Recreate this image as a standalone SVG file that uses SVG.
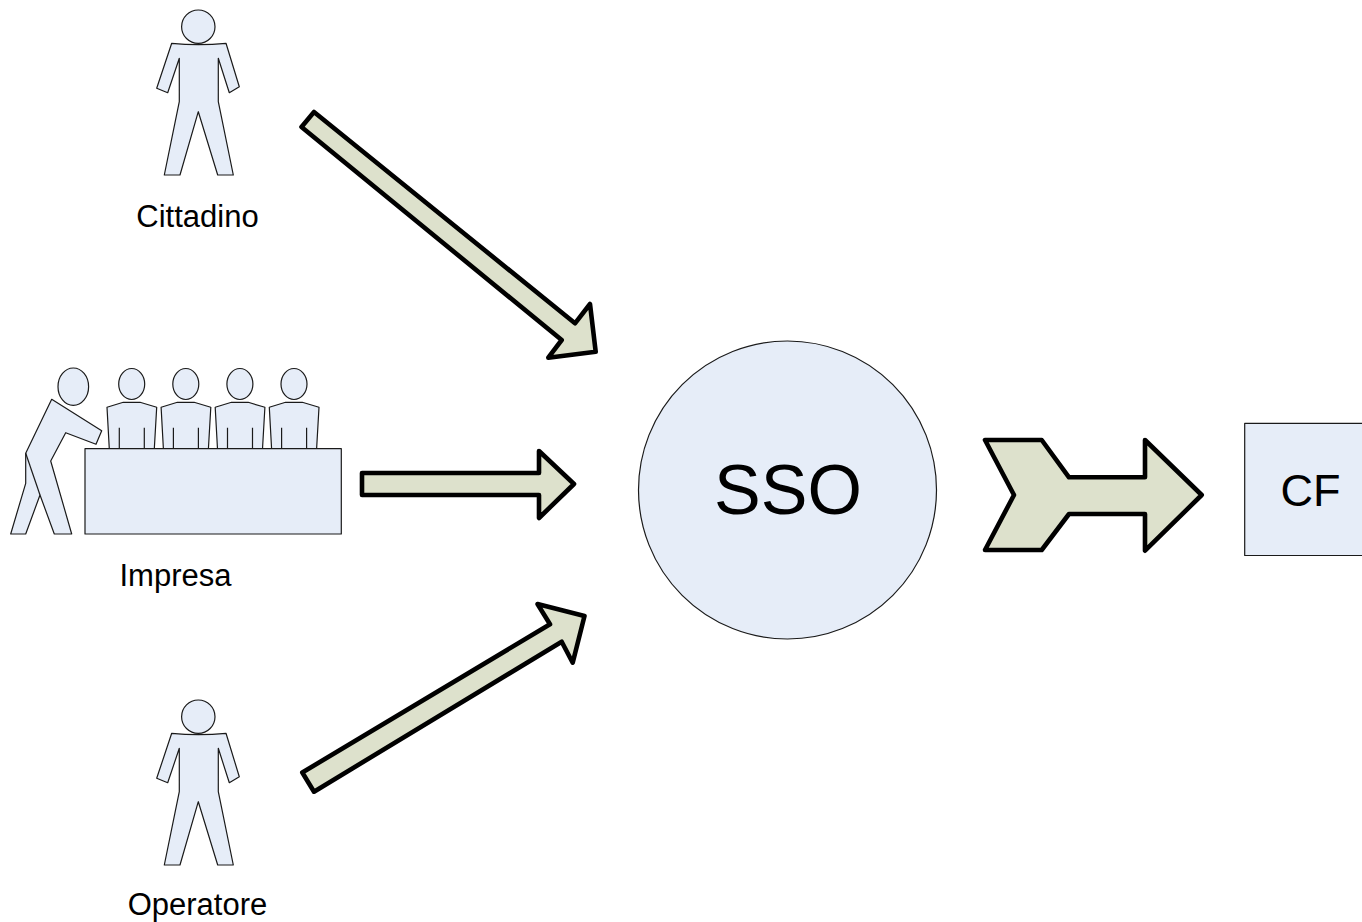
<svg xmlns="http://www.w3.org/2000/svg" width="1362" height="922" viewBox="0 0 1362 922">
<style>
.s{fill:#e6edf8;stroke:#1a1a1a;stroke-width:1.2;stroke-linejoin:round}
.a{fill:#dde1cc;stroke:#000;stroke-width:4.6;stroke-linejoin:round}
.t{font-family:"Liberation Sans",Arial,sans-serif;fill:#000;text-anchor:middle}
.l{font-size:31px}
</style>
<defs>
<g id="person">
<circle class="s" cx="198.3" cy="26.7" r="16.7"/>
<path class="s" d="M171.7 43.3Q198.3 46 226 43.3L239.3 86.7L229.3 92.7L218.3 58.3V101.7L233.3 175H217.7L198.3 111.7L180 175H164.3L179.3 101.7V58.3L167.7 92.7L156.7 88.3Z"/>
</g>
<g id="seated">
<ellipse class="s" cx="131.7" cy="384" rx="13" ry="15.5"/>
<path class="s" d="M109.3 449L107 407.3L123.3 402.3H140L156.7 407.3L154.3 449Z"/>
<path class="s" fill="none" d="M119.3 427.7V449M144.3 427.7V449"/>
</g>
</defs>
<g id="cittadino">
<use href="#person"/>
<text class="t l" x="197.5" y="227">Cittadino</text>
</g>
<g id="impresa">
<ellipse class="s" cx="73.3" cy="386.7" rx="15.3" ry="18.7"/>
<path class="s" d="M51.7 399.3L101.7 430.7L96 444.3L65.7 432.7L50.7 461L71.7 534H54.3L40 495L25.7 534H10.7L25.7 483.3V453.3Z"/>
<path class="s" d="M25.7 453.3L40 495"/>
<use href="#seated"/>
<use href="#seated" x="54.1"/>
<use href="#seated" x="108.2"/>
<use href="#seated" x="162.3"/>
<rect class="s" x="85" y="448.7" width="256.3" height="85.3"/>
<text class="t l" x="175.5" y="586">Impresa</text>
</g>
<g id="operatore">
<use href="#person" y="690"/>
<text class="t l" x="197.5" y="915">Operatore</text>
</g>
<g id="sso">
<circle class="s" cx="787.5" cy="490" r="149"/>
<text class="t" font-size="70" x="788" y="514">SSO</text>
</g>
<g id="cf">
<rect class="s" x="1244.7" y="423.3" width="125" height="132.2"/>
<text class="t" font-size="45" x="1310.5" y="506">CF</text>
</g>
<g id="connectors">
<path class="a" d="M301.5 127L314 112L575 323.3L590 304L595.7 351.7L548.3 357.7L561.7 340Z"/>
<path class="a" d="M362 473H539V451L574 484L539 518V495H362Z"/>
<path class="a" d="M302.3 772.5L314 791.7L561.7 641.7L572.7 662.7L584.5 616L537.5 604L550 624.3Z"/>
<path class="a" d="M985 440H1041.7L1069 477.3H1145V440L1201.7 495L1145 550.7V514H1069L1041.7 550H985L1014 495Z"/>
</g>
</svg>
